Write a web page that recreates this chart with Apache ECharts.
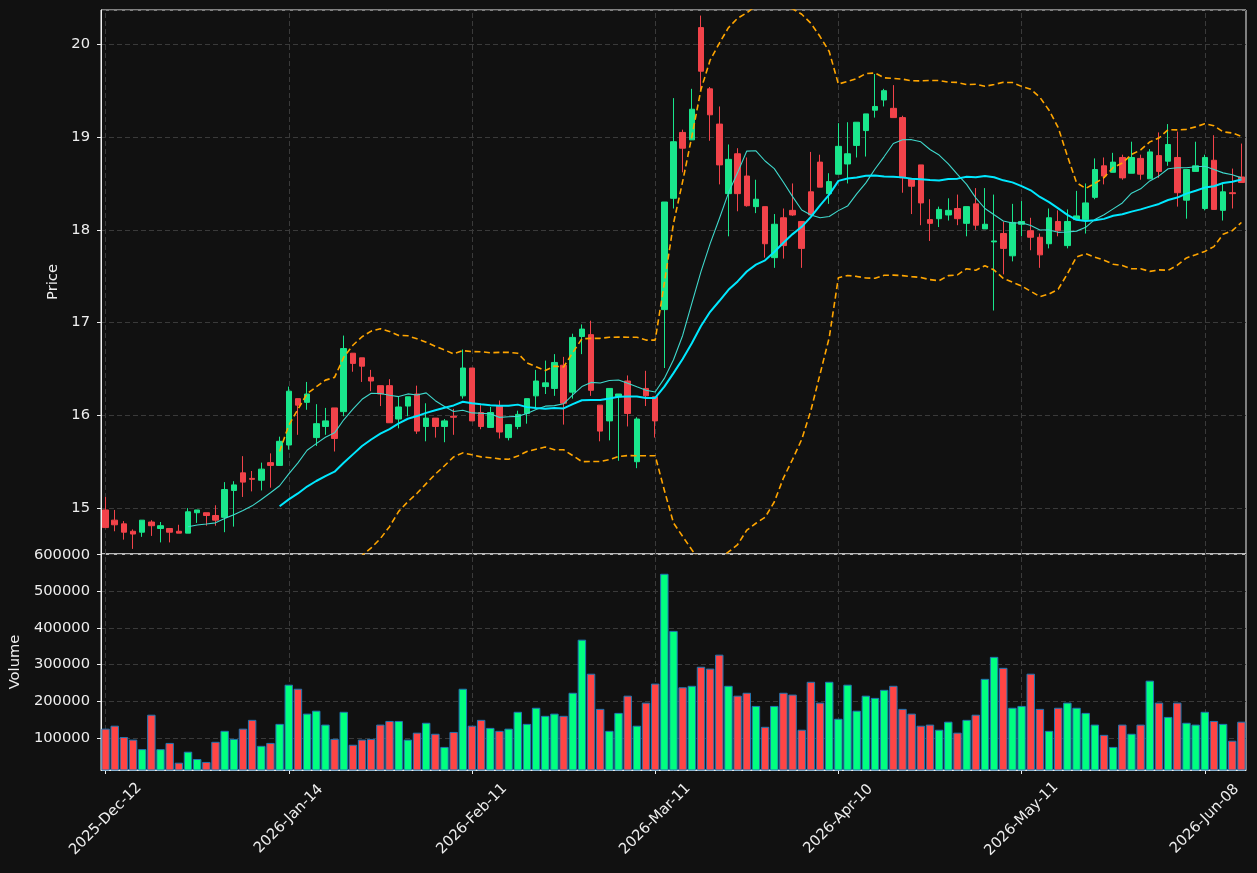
<!DOCTYPE html>
<html>
<head>
<meta charset="utf-8">
<script src="https://cdn.jsdelivr.net/npm/echarts@6/dist/echarts.min.js"></script>
<style>
  html, body { margin: 0; padding: 0; background: #111111; }
  #chart { width: 1257px; height: 873px; }
</style>
</head>
<body>
<div id="chart"></div>
<script>
// trading days, first one and the days skipped
const startDay = '2025-12-12';
const dayCount = 125;
const skippedDays = ['2025-12-25', '2025-12-26', '2026-01-01', '2026-04-03', '2026-04-06', '2026-05-04'];

// price
const opens = [14.98,14.87,14.83,14.75,14.74,14.85,14.78,14.78,14.75,14.73,14.95,14.95,14.92,14.90,15.19,15.38,15.32,15.30,15.49,15.46,
  15.68,16.18,16.14,15.76,15.88,16.08,16.04,16.67,16.62,16.41,16.32,16.32,15.96,16.10,16.23,15.88,15.97,15.88,15.99,16.21,
  16.51,16.03,15.87,16.10,15.76,15.88,16.02,16.21,16.31,16.29,16.54,16.25,16.85,16.87,16.11,15.94,16.20,16.37,15.50,16.29,
  16.20,17.14,18.34,19.05,18.97,20.18,19.52,19.14,18.39,18.82,18.58,18.25,18.25,17.70,18.13,18.21,18.09,18.41,18.73,18.39,
  18.60,18.71,18.91,19.07,19.29,19.40,19.31,19.21,18.55,18.70,18.11,18.12,18.16,18.23,18.07,18.28,18.01,17.87,17.96,17.72,
  18.06,17.99,17.92,17.85,18.09,17.83,18.11,18.11,18.35,18.69,18.62,18.78,18.61,18.77,18.55,18.80,18.74,18.78,18.32,18.63,
  18.23,18.75,18.21,18.40,18.57];
const closes = [14.79,14.82,14.74,14.72,14.87,14.81,14.81,14.74,14.73,14.96,14.98,14.92,14.87,15.20,15.25,15.28,15.31,15.42,15.46,15.72,
  16.26,16.11,16.23,15.91,15.94,15.75,16.72,16.56,16.53,16.37,16.23,15.92,16.09,16.20,15.83,15.97,15.88,15.94,15.98,16.51,
  15.94,15.88,16.03,15.82,15.90,16.01,16.18,16.37,16.35,16.57,16.13,16.84,16.93,16.27,15.83,16.29,16.23,16.02,15.96,16.21,
  15.94,18.30,18.95,18.88,19.30,19.71,19.24,18.70,18.76,18.39,18.26,18.33,17.85,18.06,17.83,18.16,17.80,18.16,18.46,18.52,
  18.90,18.82,19.16,19.25,19.33,19.50,19.21,18.56,18.47,18.29,18.07,18.22,18.21,18.12,18.25,18.05,18.06,17.88,17.80,18.08,
  18.09,17.92,17.73,18.13,17.99,18.09,18.15,18.29,18.65,18.58,18.73,18.56,18.78,18.60,18.84,18.63,18.92,18.40,18.65,18.69,
  18.78,18.22,18.41,18.39,18.51];
const lows = [14.79,14.75,14.66,14.56,14.69,14.70,14.63,14.63,14.73,14.73,14.84,14.81,14.81,14.74,14.80,15.12,15.18,15.19,15.22,15.46,
  15.63,15.79,16.06,15.67,15.79,15.61,15.99,16.47,16.36,16.26,16.10,15.92,15.86,15.99,15.80,15.72,15.76,15.71,15.79,16.18,
  15.94,15.85,15.87,15.75,15.73,15.85,15.91,16.09,16.23,16.21,15.90,16.18,16.66,16.21,15.72,15.73,15.51,15.88,15.43,16.10,
  15.76,16.51,18.23,18.62,18.97,19.50,18.96,18.49,17.93,18.20,18.25,18.18,17.70,17.59,17.69,18.15,17.59,18.16,18.46,18.28,
  18.60,18.50,18.78,18.79,19.21,19.33,19.21,18.40,18.17,18.05,17.88,18.03,18.10,18.05,17.93,18.00,18.01,17.13,17.52,17.66,
  17.93,17.78,17.59,17.80,17.93,17.80,18.11,17.96,18.33,18.49,18.62,18.54,18.61,18.54,18.55,18.56,18.69,18.25,18.12,18.63,
  18.21,18.22,18.10,18.23,18.51];
const highs = [15.12,14.98,14.86,14.77,14.87,14.87,14.85,14.78,14.82,15.00,14.98,14.95,15.03,15.28,15.29,15.56,15.40,15.49,15.59,15.77,
  16.31,16.18,16.36,16.12,16.08,16.08,16.86,16.67,16.62,16.49,16.32,16.39,16.20,16.20,16.32,16.13,15.97,15.96,16.07,16.71,
  16.51,16.11,16.09,16.16,15.90,16.05,16.18,16.49,16.59,16.66,16.63,16.88,16.98,17.02,16.11,16.29,16.23,16.43,15.98,16.48,
  16.20,18.30,19.42,19.08,19.52,20.31,19.54,19.33,18.92,18.88,18.78,18.54,18.25,18.17,18.23,18.50,18.09,18.84,18.81,18.61,
  19.15,19.16,19.16,19.25,19.68,19.52,19.56,19.23,18.55,18.70,18.33,18.25,18.34,18.38,18.25,18.45,18.45,18.38,18.09,18.28,
  18.31,18.13,17.96,18.23,18.21,18.22,18.42,18.50,18.77,18.78,18.83,18.81,18.95,18.81,18.87,19.05,19.14,19.06,18.65,18.95,
  18.81,19.02,18.50,18.66,18.93];
const volumes = [125000,133000,102000,95000,69000,163000,69000,86000,32000,62000,42000,34000,89000,119000,97000,125000,149000,78000,86000,138000,
  245000,234000,166000,174000,136000,97000,171000,81000,95000,97000,136000,146000,146000,95000,114000,141000,111000,75000,116000,234000,
  133000,149000,127000,119000,125000,171000,138000,182000,160000,166000,160000,223000,368000,275000,179000,119000,168000,215000,133000,196000,
  248000,548000,392000,238000,242000,294000,289000,327000,242000,215000,223000,187000,130000,187000,223000,218000,122000,253000,196000,253000,
  152000,245000,174000,215000,209000,231000,242000,179000,166000,133000,136000,122000,144000,114000,149000,163000,261000,321000,291000,182000,
  187000,275000,179000,119000,182000,196000,182000,168000,136000,108000,75000,136000,111000,136000,256000,196000,157000,196000,141000,136000,
  171000,146000,138000,92000,144000];

// label every 20th day
const labelEvery = 20;

const MONTHS = ['Jan','Feb','Mar','Apr','May','Jun','Jul','Aug','Sep','Oct','Nov','Dec'];
function buildDates(start, n, skip) {
  const out = [];
  const p = start.split('-').map(Number);
  let d = new Date(Date.UTC(p[0], p[1] - 1, p[2]));
  while (out.length < n) {
    const iso = d.toISOString().slice(0, 10);
    const wd = d.getUTCDay();
    if (wd !== 0 && wd !== 6 && skip.indexOf(iso) < 0) {
      out.push(d.getUTCFullYear() + '-' + MONTHS[d.getUTCMonth()] + '-' + iso.slice(8, 10));
    }
    d = new Date(d.getTime() + 86400000);
  }
  return out;
}
const dates = buildDates(startDay, dayCount, skippedDays);

function sma(arr, n) {
  return arr.map((v, i) => {
    if (i < n - 1) return '-';
    let s = 0;
    for (let k = i - n + 1; k <= i; k++) s += arr[k];
    return +(s / n).toFixed(4);
  });
}
function band(arr, n, mult) {
  const up = [], lo = [];
  arr.forEach((v, i) => {
    if (i < n - 1) { up.push('-'); lo.push('-'); return; }
    let s = 0;
    for (let k = i - n + 1; k <= i; k++) s += arr[k];
    const m = s / n;
    let q = 0;
    for (let k = i - n + 1; k <= i; k++) q += (arr[k] - m) * (arr[k] - m);
    const sd = Math.sqrt(q / (n - 1));
    up.push(+(m + mult * sd).toFixed(4));
    lo.push(+(m - mult * sd).toFixed(4));
  });
  return [up, lo];
}

const ma10 = sma(closes, 10);
const ma20 = sma(closes, 20);
const [bbUp, bbLow] = band(closes, 20, 2);

const UP = '#19e68c';
const DOWN = '#f2434a';
const VOL_UP = '#00ff80';
const VOL_DOWN = '#ff4545';
const TEXT = '#eeeeee';
const GRID_LINE = { type: [5, 3], color: '#3a3a3a', width: 1 };
const FONT = 'DejaVu Sans';
const FS = 14.7;

const candleData = opens.map((o, i) => [o, closes[i], lows[i], highs[i]]);
const volData = volumes.map((v, i) => ({
  value: v,
  itemStyle: { color: closes[i] >= opens[i] ? VOL_UP : VOL_DOWN }
}));

// vertical grid lines at the labelled days, kept under the marks
const vLines = dates.filter((d, i) => i % labelEvery === 0).map(d => ({ xAxis: d }));
const vLineMark = {
  silent: true,
  z: 0,
  symbol: 'none',
  label: { show: false },
  lineStyle: GRID_LINE,
  data: vLines
};

const chart = echarts.init(document.getElementById('chart'));
chart.setOption({
  backgroundColor: '#111111',
  animation: false,
  textStyle: { fontFamily: FONT },
  grid: [
    { left: 101, right: 11, top: 10, height: 544, show: true, borderColor: '#f0f0f0', borderWidth: 1, backgroundColor: 'transparent' },
    { left: 101, right: 11, top: 554, height: 216, show: true, borderColor: '#f0f0f0', borderWidth: 1, backgroundColor: 'transparent' }
  ],
  xAxis: [
    {
      type: 'category', gridIndex: 0, data: dates, boundaryGap: true,
      axisLine: { show: false }, axisTick: { show: false }, axisLabel: { show: false }, splitLine: { show: false }
    },
    {
      type: 'category', gridIndex: 1, data: dates, boundaryGap: true,
      axisLine: { show: true, lineStyle: { color: '#f0f0f0' } },
      axisTick: { show: true, alignWithLabel: true, interval: labelEvery - 1, length: 4, lineStyle: { color: '#f0f0f0' } },
      axisLabel: {
        interval: labelEvery - 1, rotate: 45, color: TEXT, fontSize: FS, fontFamily: FONT,
        align: 'center', verticalAlign: 'middle', margin: 49
      },
      splitLine: { show: false }
    }
  ],
  yAxis: [
    {
      type: 'value', gridIndex: 0, min: 14.505, max: 20.37, scale: true,
      name: 'Price', nameLocation: 'middle', nameGap: 34,
      nameTextStyle: { color: TEXT, fontSize: FS, fontFamily: FONT },
      axisLine: { show: true, lineStyle: { color: '#f0f0f0' } },
      axisTick: { show: true, length: 4, lineStyle: { color: '#f0f0f0' } },
      axisLabel: { color: TEXT, fontSize: FS, fontFamily: FONT, margin: 11, showMinLabel: false, showMaxLabel: false },
      splitLine: { show: true, lineStyle: GRID_LINE }
    },
    {
      type: 'value', gridIndex: 1, min: 12000, max: 602000,
      name: 'Volume', nameLocation: 'middle', nameGap: 75,
      nameTextStyle: { color: TEXT, fontSize: FS, fontFamily: FONT },
      axisLine: { show: true, lineStyle: { color: '#f0f0f0' } },
      axisTick: { show: true, length: 4, lineStyle: { color: '#f0f0f0' } },
      axisLabel: {
        color: TEXT, fontSize: FS, fontFamily: FONT, margin: 11, showMinLabel: false, showMaxLabel: false,
        formatter: v => String(Math.round(v))
      },
      splitLine: { show: true, lineStyle: GRID_LINE }
    }
  ],
  series: [
    {
      name: 'Price', type: 'candlestick', xAxisIndex: 0, yAxisIndex: 0,
      data: candleData, barWidth: 6,
      itemStyle: { color: UP, color0: DOWN, borderColor: UP, borderColor0: DOWN, borderWidth: 1 },
      markLine: vLineMark
    },
    {
      name: 'MA10', type: 'line', xAxisIndex: 0, yAxisIndex: 0, data: ma10,
      showSymbol: false, lineStyle: { color: '#3fd8cc', width: 1.1 }, z: 3
    },
    {
      name: 'MA20', type: 'line', xAxisIndex: 0, yAxisIndex: 0, data: ma20,
      showSymbol: false, lineStyle: { color: '#00e8ff', width: 2 }, z: 3
    },
    {
      name: 'BB upper', type: 'line', xAxisIndex: 0, yAxisIndex: 0, data: bbUp,
      showSymbol: false, lineStyle: { color: '#ffa500', width: 1.6, type: [6, 3.5] }, z: 3
    },
    {
      name: 'BB lower', type: 'line', xAxisIndex: 0, yAxisIndex: 0, data: bbLow,
      showSymbol: false, lineStyle: { color: '#ffa500', width: 1.6, type: [6, 3.5] }, z: 3
    },
    {
      name: 'Volume', type: 'bar', xAxisIndex: 1, yAxisIndex: 1, data: volData,
      barWidth: '92%', itemStyle: { borderColor: '#1f77b4', borderWidth: 1 },
      markLine: vLineMark
    }
  ]
});
</script>
</body>
</html>
